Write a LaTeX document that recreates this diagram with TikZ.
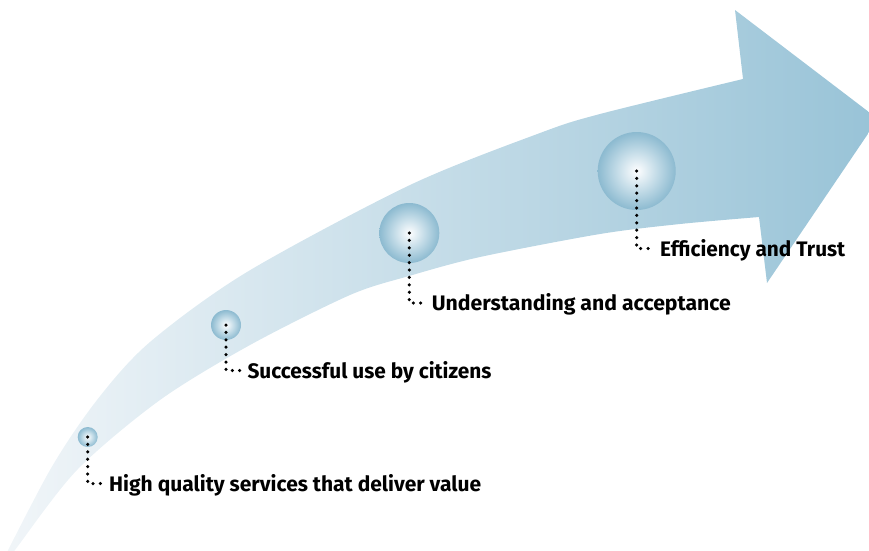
\documentclass[tikz,border=0pt]{standalone}
\usepackage{fontspec}
\setmainfont{Fira Sans}
\usepackage{graphicx}

\definecolor{arrowlight}{HTML}{F2F6F9}
\definecolor{arrowdark}{HTML}{98C3D7}
\definecolor{bubcore}{HTML}{F7FAFC}
\definecolor{bubmid}{HTML}{C2DBE7}
\definecolor{bubrim}{HTML}{8CBAD0}

% glassy bead: pale core fading to a blue rim (rim reached at 25bp)
\pgfdeclareradialshading{bead}{\pgfpoint{0bp}{0bp}}{%
  color(0bp)=(bubcore); color(1.5bp)=(bubcore); color(13bp)=(bubmid);
  color(25bp)=(bubrim); color(50bp)=(bubrim)}

% label text stretched to a given width
\newcommand{\steplabel}[2]{\resizebox{#1}{\height}{#2}}

\begin{document}
\begin{tikzpicture}[x=1pt,y=-1pt,
  beadnode/.style={circle, shade, shading=bead, inner sep=0pt, minimum size=#1},
  dotline/.style={line width=3.5pt, line cap=round, dash pattern=on 0pt off 7.4pt},
  steptext/.style={anchor=base west, inner sep=0pt,
    font=\fontsize{21}{24}\selectfont\bfseries}]

\useasboundingbox (0,0) rectangle (869,550);

% the big curved arrow
\begin{scope}
  \clip (0,0) rectangle (869,550);
  \shade[left color=arrowlight, right color=arrowdark]
    plot[smooth] coordinates {(-7,580) (50,470) (97,400) (150,342) (247,272)
                              (410,185) (540,133) (600,114) (743,79)}
    -- (735,10) -- (878,119) -- (767,283)
    -- plot[smooth] coordinates {(759,217) (680,224) (600,234) (480,257)
                              (409,276) (350,295) (250,345) (160,400)
                              (77,470) (15,550) (-7,580)}
    -- cycle;
\end{scope}

% milestones on the arrow
\node[beadnode=20pt] (b1) at (87.7,437) {};
\node[beadnode=30pt] (b2) at (226,325) {};
\node[beadnode=60pt] (b3) at (409.3,233) {};
\node[beadnode=78pt] (b4) at (636.7,171) {};

% labels
\node[steptext] (t1) at (109,491.5) {\steplabel{372pt}{High quality services that deliver value}};
\node[steptext] (t2) at (247.3,378.3) {\steplabel{244pt}{Successful use by citizens}};
\node[steptext] (t3) at (431.7,310.7) {\steplabel{299pt}{Understanding and acceptance}};
\node[steptext] (t4) at (660,256.7) {\steplabel{185pt}{Efficiency and Trust}};

% ends of the dotted leaders
\coordinate (e1) at (102,483.5);
\coordinate (e2) at (240,370.5);
\coordinate (e3) at (425,303);
\coordinate (e4) at (653,248.5);

\draw[dotline] (b1.center) |- (e1);
\draw[dotline] (b2.center) |- (e2);
\draw[dotline] (b3.center) |- (e3);
\draw[dotline] (b4.center) |- (e4);
\end{tikzpicture}
\end{document}
